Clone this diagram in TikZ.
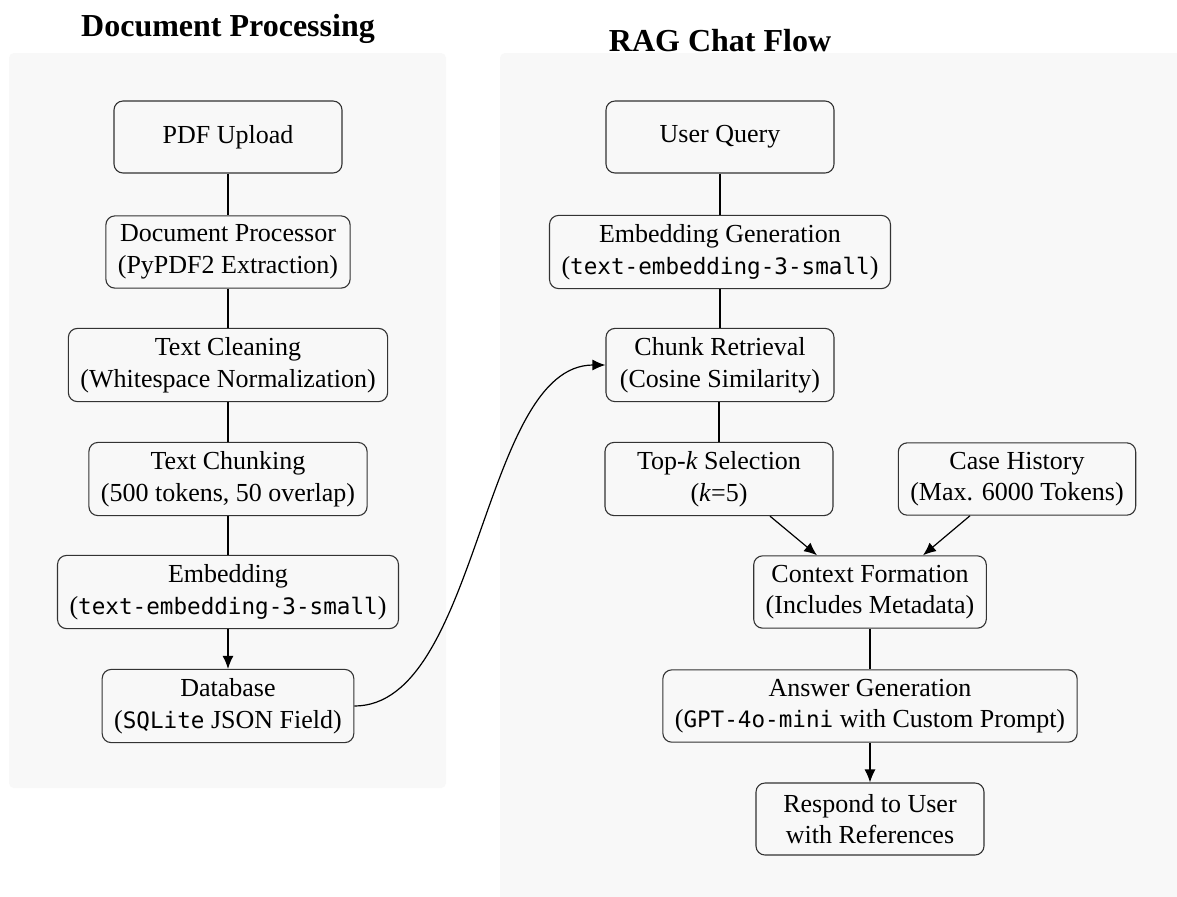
\documentclass[tikz,border=0pt]{standalone}
\usepackage{fontspec}
\setmainfont{Liberation Serif}
\setmonofont{DejaVu Sans Mono}[Scale=0.87]
\usetikzlibrary{arrows.meta}
\definecolor{panelbg}{HTML}{F8F8F8}
\definecolor{boxline}{HTML}{333333}
\tikzset{
  px/.style={x=0.5pt,y=-0.5pt},
  panel/.style={fill=panelbg,draw=none,rounded corners=2.5pt},
  procbox/.style={draw=boxline,fill=panelbg,line width=0.55pt,rounded corners=4.5pt,
    align=center,minimum width=114pt,minimum height=36pt,inner xsep=6pt,inner ysep=4.5pt,
    font=\fontsize{13}{15.8}\selectfont},
  link/.style={draw=black,line width=0.6pt},
  arr/.style={link,-{Latex[length=6.5pt,width=5.5pt]}},
  ttl/.style={font=\fontsize{16}{19}\selectfont\bfseries,anchor=base}
}
\begin{document}
\begin{tikzpicture}[px]
\clip (0,0) rectangle (1177,896);
\fill[white] (0,0) rectangle (1177,896);
% panels
\fill[panel] (9,53) rectangle (446,788);
\fill[panel] (500,53) rectangle (1200,920);
% titles
\node[ttl] (t1) at (228,36) {Document Processing};
\node[ttl] (t2) at (720,51) {RAG Chat Flow};
% left column
\node[procbox] (pdf) at (228,137) {PDF Upload};
\node[procbox] (dp) at (228,252) {Document Processor\\(PyPDF2 Extraction)};
\node[procbox] (tc) at (228,365) {Text Cleaning\\(Whitespace Normalization)};
\node[procbox] (tk) at (228,479) {Text Chunking\\(500 tokens, 50 overlap)};
\node[procbox] (em) at (228,592) {Embedding\\(\texttt{text-embedding-3-small})};
\node[procbox] (db) at (228,706) {Database\\(\texttt{SQLite} JSON Field)};
% right column
\node[procbox] (uq) at (720,137) {User Query};
\node[procbox] (eg) at (720,252) {Embedding Generation\\(\texttt{text-embedding-3-small})};
\node[procbox] (cr) at (720,365) {Chunk Retrieval\\(Cosine Similarity)};
\node[procbox] (ts) at (719,479) {Top-\textit{k} Selection\\(\textit{k}=5)};
\node[procbox] (ch) at (1017,479) {Case History\\(Max. 6000 Tokens)};
\node[procbox] (cf) at (870,592) {Context Formation\\(Includes Metadata)};
\node[procbox] (ag) at (870,706) {Answer Generation\\(\texttt{GPT-4o-mini} with Custom Prompt)};
\node[procbox] (rs) at (870,819) {Respond to User\\with References};
% connectors left
\draw[link] (pdf) -- (dp);
\draw[link] (dp) -- (tc);
\draw[link] (tc) -- (tk);
\draw[link] (tk) -- (em);
\draw[arr] (em) -- (db);
% connectors right
\draw[link] (uq) -- (eg);
\draw[link] (eg) -- (cr);
\draw[link] (cr.south -| ts.north) -- (ts.north);
\coordinate (tsout) at ([xshift=25.5pt]ts.south);
\coordinate (chout) at ([xshift=-23.5pt]ch.south);
\draw[arr] (tsout) -- ([xshift=-26.5pt]cf.north);
\draw[arr] (chout) -- ([xshift=26.5pt]cf.north);
\draw[link] (cf) -- (ag);
\draw[arr] (ag) -- (rs);
% cross link
\draw[arr] (db.east) .. controls ++(125,0) and ([xshift=-62pt]cr.west) .. (cr.west);
\end{tikzpicture}
\end{document}
